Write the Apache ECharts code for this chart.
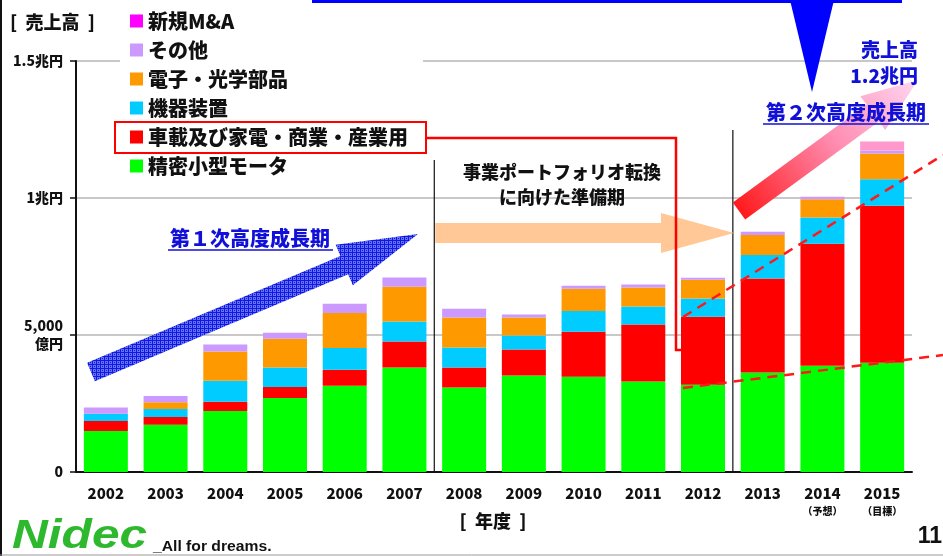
<!DOCTYPE html>
<html>
<head>
<meta charset="utf-8">
<script src="https://cdn.jsdelivr.net/npm/echarts@6/dist/echarts.min.js"></script>
<style>
  html, body { margin: 0; padding: 0; background: #fff; }
  #chart { width: 943px; height: 556px; }
</style>
</head>
<body>
<div id="chart"></div>
<script>
// 年度
var years = ['2002', '2003', '2004', '2005', '2006', '2007', '2008', '2009', '2010', '2011', '2012', '2013', '2014', '2015'];
var yearNotes = {'2014': '（予想）', '2015': '（目標）'};
// 売上高（億円）セグメント別
var seimitsu = [1500, 1720, 2230, 2700, 3150, 3810, 3080, 3520, 3480, 3300, 3180, 3630, 3880, 3990];
var shasai   = [360, 290, 330, 400, 580, 950, 730, 950, 1640, 2080, 2490, 3430, 4450, 5730];
var kiki     = [270, 290, 770, 710, 800, 730, 730, 510, 760, 660, 660, 860, 960, 960];
var denshi   = [0, 250, 1070, 1050, 1270, 1270, 1100, 660, 810, 690, 690, 730, 660, 940];
var sonota   = [220, 220, 250, 220, 340, 340, 320, 110, 110, 110, 70, 120, 100, 110];
var shinkiMA = [0, 0, 0, 0, 0, 0, 0, 0, 0, 0, 0, 0, 0, 330];
// 縦軸ラベル
var yTicks = {0: '0', 5000: '5,000\n億円', 10000: '1兆円', 15000: '1.5兆円'};

var JP = '"Noto Sans CJK JP Black", "Noto Sans CJK JP", "Noto Sans", sans-serif';
var chart = echarts.init(document.getElementById('chart'));

function bar(name, data, color) {
    return {
        name: name,
        type: 'bar',
        stack: 'total',
        barWidth: 44,
        data: data,
        itemStyle: {color: color},
        emphasis: {disabled: true}
    };
}

// 矢印の多角形
function arrow(x1, y1, x2, y2, bw, hw, hl) {
    var dx = x2 - x1, dy = y2 - y1;
    var len = Math.sqrt(dx * dx + dy * dy);
    var ux = dx / len, uy = dy / len;
    var nx = -uy, ny = ux;
    var bx = x2 - ux * hl, by = y2 - uy * hl;
    return [
        [x1 + nx * bw, y1 + ny * bw],
        [bx + nx * bw, by + ny * bw],
        [bx + nx * hw, by + ny * hw],
        [x2, y2],
        [bx - nx * hw, by - ny * hw],
        [bx - nx * bw, by - ny * bw],
        [x1 - nx * bw, y1 - ny * bw]
    ];
}

// 青い矢印の網目模様
var pat = document.createElement('canvas');
pat.width = 4; pat.height = 4;
var pc = pat.getContext('2d');
pc.fillStyle = '#6470f8';
pc.fillRect(0, 0, 4, 4);
pc.fillStyle = '#1018e0';
pc.fillRect(0, 0, 4, 1);
pc.fillRect(0, 0, 1, 4);
pc.fillRect(2, 2, 1, 1);

var option = {
    animation: false,
    textStyle: {fontFamily: JP},
    grid: {left: 76, right: 31, top: 61, bottom: 84},
    legend: {
        orient: 'vertical',
        left: 120,
        top: 5,
        padding: [6, 15, 6, 10],
        backgroundColor: '#fff',
        itemWidth: 13,
        itemHeight: 13,
        itemGap: 9,
        icon: 'rect',
        selectedMode: false,
        textStyle: {fontSize: 20, fontWeight: 900, color: '#111', lineHeight: 20, fontFamily: JP},
        data: [
            {name: '新規M&A', itemStyle: {color: '#ff00ff'}},
            {name: 'その他'},
            {name: '電子・光学部品'},
            {name: '機器装置'},
            {name: '車載及び家電・商業・産業用'},
            {name: '精密小型モータ'}
        ]
    },
    xAxis: {
        type: 'category',
        data: years,
        axisLine: {lineStyle: {color: '#111', width: 2}},
        axisTick: {lineStyle: {color: '#111', width: 1.5}, length: 5},
        axisLabel: {
            interval: 0,
            margin: 11,
            formatter: function (v) {
                return yearNotes[v] ? '{y|' + v + '}\n{s|' + yearNotes[v] + '}' : '{y|' + v + '}';
            },
            rich: {
                y: {fontSize: 15, fontWeight: 900, color: '#111', fontFamily: JP, lineHeight: 21},
                s: {fontSize: 10, fontWeight: 900, color: '#111', fontFamily: JP, lineHeight: 14}
            }
        }
    },
    yAxis: {
        type: 'value',
        min: 0,
        max: 15000,
        interval: 5000,
        axisLine: {show: true, lineStyle: {color: '#111', width: 2}},
        axisTick: {show: true, lineStyle: {color: '#111', width: 1.5}, length: 6},
        splitLine: {lineStyle: {color: '#c8c8c8', width: 2}},
        axisLabel: {
            margin: 13,
            fontSize: 14,
            fontWeight: 900,
            color: '#111',
            lineHeight: 18,
            formatter: function (v) { return yTicks[v]; }
        }
    },
    series: [
        bar('精密小型モータ', seimitsu, '#00ff00'),
        bar('車載及び家電・商業・産業用', shasai, '#ff0000'),
        bar('機器装置', kiki, '#00ccff'),
        bar('電子・光学部品', denshi, '#ff9900'),
        bar('その他', sonota, '#cc99ff'),
        bar('新規M&A', shinkiMA, '#ff99cc')
    ]
};
chart.setOption(option);

// 期の区切り線（カテゴリの境界）
function midX(a, b) {
    return (chart.convertToPixel({xAxisIndex: 0}, a) + chart.convertToPixel({xAxisIndex: 0}, b)) / 2;
}
var sep1 = midX('2007', '2008');
var sep2 = midX('2012', '2013');
var base = chart.convertToPixel({yAxisIndex: 0}, 0);

var heavy = function (px) { return '900 ' + px + 'px ' + JP; };
var blue = '#1010d8';

chart.setOption({
    graphic: [
        // 枠線
        {type: 'line', shape: {x1: 1, y1: 0, x2: 1, y2: 556}, style: {stroke: '#111', lineWidth: 2}},
        {type: 'line', shape: {x1: 0, y1: 555, x2: 943, y2: 555}, style: {stroke: '#999', lineWidth: 1}},
        // 上部の青線と三角
        {type: 'line', shape: {x1: 312, y1: 1.5, x2: 902, y2: 1.5}, style: {stroke: '#0000ff', lineWidth: 3}},
        {type: 'polygon', shape: {points: [[790, 0], [834, 0], [812, 92]]}, style: {fill: '#0000ff'}},
        // 区切り線
        {type: 'line', shape: {x1: sep1, y1: 160, x2: sep1, y2: base}, style: {stroke: '#111', lineWidth: 1.2}},
        {type: 'line', shape: {x1: sep2, y1: 130, x2: sep2, y2: base}, style: {stroke: '#111', lineWidth: 1.2}},
        // 見出し
        {type: 'text', x: 10, y: 22, style: {text: '[  売上高  ]', font: heavy(18), fill: '#111', verticalAlign: 'middle'}},
        {type: 'text', x: 493, y: 521, style: {text: '[  年度  ]', font: heavy(18), fill: '#111', align: 'center', verticalAlign: 'middle'}},
        {type: 'text', x: 942, y: 537, style: {text: '11', font: 'bold 23px "Liberation Sans", sans-serif', fill: '#111', align: 'right', verticalAlign: 'middle'}},
        // ロゴ
        {type: 'text', x: 12, y: 537, scaleX: 1.24, style: {text: 'Nidec', font: 'italic bold 40px "Liberation Sans", sans-serif', fill: '#2eb82e', verticalAlign: 'middle'}},
        {type: 'text', x: 153, y: 547, scaleX: 1.12, style: {text: '_All for dreams.', font: 'bold 14px "Liberation Sans Narrow", "Liberation Sans", sans-serif', fill: '#111', verticalAlign: 'middle'}},
        // 凡例の赤枠と引き出し線
        {type: 'rect', shape: {x: 115, y: 122, width: 311, height: 31}, style: {fill: null, stroke: '#ff0000', lineWidth: 2}, z: 10},
        {type: 'polyline', shape: {points: [[426, 138], [676, 138], [676, 350], [684, 350]]}, style: {stroke: '#ff0000', lineWidth: 2.5, fill: null}, z: 10},
        // 第１次高度成長期
        {type: 'polygon', shape: {points: arrow(91, 372, 418, 234, 10, 22, 80)}, style: {fill: {image: pat, repeat: 'repeat'}}},
        {type: 'text', x: 250, y: 238, style: {text: '第１次高度成長期', font: heavy(20), fill: blue, align: 'center', verticalAlign: 'middle'}},
        {type: 'line', shape: {x1: 168, y1: 250, x2: 333, y2: 250}, style: {stroke: blue, lineWidth: 1.5}},
        // 準備期
        {type: 'polygon', shape: {points: arrow(sep1 + 1, 233, 734, 233, 10, 20, 73)}, style: {fill: '#ffc896'}},
        {type: 'text', x: 562, y: 172, style: {text: '事業ポートフォリオ転換', font: heavy(18), fill: '#111', align: 'center', verticalAlign: 'middle'}},
        {type: 'text', x: 562, y: 197, style: {text: 'に向けた準備期', font: heavy(18), fill: '#111', align: 'center', verticalAlign: 'middle'}},
        // 第２次高度成長期
        {type: 'polygon', shape: {points: arrow(739, 211, 918, 80, 10.5, 21, 56)},
            style: {fill: new echarts.graphic.LinearGradient(0, 1, 1, 0, [
                {offset: 0, color: '#ff1010'}, {offset: 0.55, color: '#ff8cb0'}, {offset: 1, color: '#ffd6f2'}
            ])}},
        {type: 'text', x: 918, y: 50, style: {text: '売上高', font: heavy(19), fill: blue, align: 'right', verticalAlign: 'middle'}, z: 20},
        {type: 'text', x: 918, y: 76, style: {text: '1.2兆円', font: heavy(19), fill: blue, align: 'right', verticalAlign: 'middle'}, z: 20},
        {type: 'text', x: 846, y: 112, style: {text: '第２次高度成長期', font: heavy(20), fill: blue, align: 'center', verticalAlign: 'middle'}, z: 20},
        {type: 'line', shape: {x1: 763, y1: 124, x2: 929, y2: 124}, style: {stroke: blue, lineWidth: 1.5}, z: 20},
        // 赤い点線
        {type: 'line', shape: {x1: 683, y1: 317, x2: 943, y2: 155}, style: {stroke: '#ff1a1a', lineWidth: 2.5, lineDash: [10, 7]}, z: 20},
        {type: 'line', shape: {x1: 683, y1: 388, x2: 943, y2: 355}, style: {stroke: '#ff1a1a', lineWidth: 2.5, lineDash: [10, 7]}, z: 20}
    ]
});
</script>
</body>
</html>
